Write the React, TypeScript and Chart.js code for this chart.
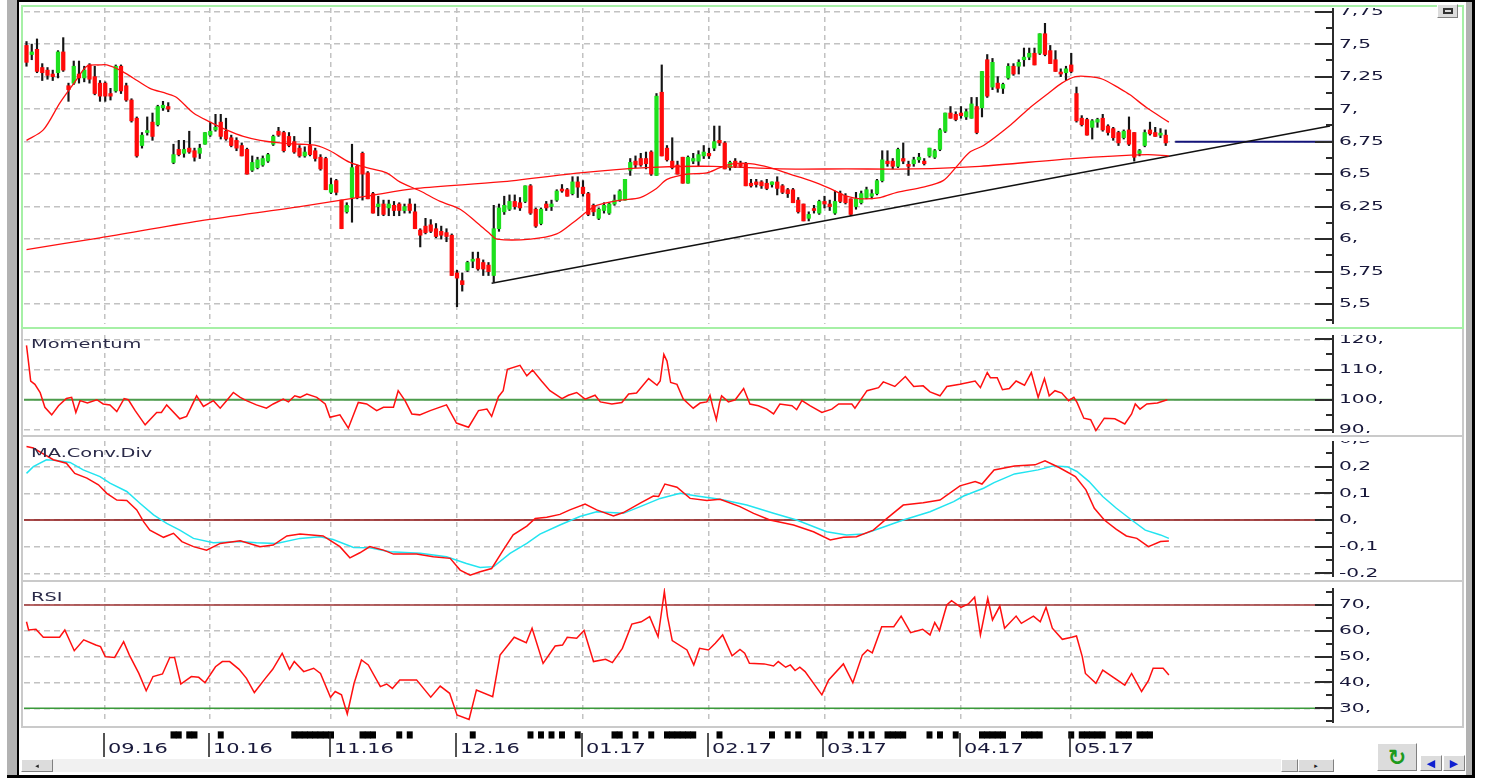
import React, { useEffect, useRef } from "react";
import { Chart, registerables } from "chart.js";

Chart.register(...registerables);

type OHLC = [number, number, number, number]; // open, high, low, close
type Pt = [number, number]; // bar index, value

// ---------------- price bars (one array per month) ----------------
const aug16: OHLC[] = [
  [7.49, 7.52, 7.33, 7.36], [7.42, 7.5, 7.38, 7.44], [7.46, 7.54, 7.28, 7.29], [7.32, 7.35, 7.22, 7.28],
  [7.3, 7.32, 7.23, 7.26], [7.27, 7.3, 7.22, 7.25], [7.28, 7.45, 7.24, 7.44], [7.44, 7.55, 7.29, 7.3],
  [7.18, 7.2, 7.06, 7.15], [7.2, 7.37, 7.19, 7.33], [7.27, 7.37, 7.2, 7.24], [7.24, 7.33, 7.21, 7.3],
  [7.34, 7.35, 7.2, 7.23], [7.25, 7.33, 7.11, 7.12], [7.2, 7.22, 7.06, 7.1],
];
const sep16: OHLC[] = [
  [7.2, 7.21, 7.06, 7.1], [7.12, 7.16, 7.07, 7.1], [7.14, 7.34, 7.13, 7.33], [7.33, 7.34, 7.12, 7.14],
  [7.18, 7.2, 7.06, 7.07], [7.07, 7.08, 6.9, 6.91], [6.93, 6.94, 6.63, 6.64], [6.72, 6.82, 6.7, 6.8],
  [6.82, 6.94, 6.8, 6.83], [6.9, 6.97, 6.76, 6.79], [6.88, 7.03, 6.87, 7.02], [7.01, 7.06, 6.99, 7.03],
  [7.02, 7.05, 6.98, 7.0], [6.59, 6.73, 6.58, 6.65], [6.69, 6.76, 6.64, 6.65], [6.66, 6.76, 6.63, 6.69],
  [6.7, 6.83, 6.66, 6.67], [6.68, 6.7, 6.6, 6.63], [6.66, 6.73, 6.62, 6.7], [6.73, 6.82, 6.73, 6.82],
];
const oct16: OHLC[] = [
  [6.8, 6.9, 6.79, 6.83], [6.84, 6.96, 6.83, 6.86], [6.9, 6.96, 6.77, 6.79], [6.83, 6.93, 6.76, 6.77],
  [6.78, 6.8, 6.71, 6.72], [6.76, 6.78, 6.68, 6.7], [6.72, 6.74, 6.64, 6.64], [6.69, 6.7, 6.5, 6.5],
  [6.53, 6.64, 6.52, 6.59], [6.55, 6.63, 6.54, 6.61], [6.57, 6.64, 6.56, 6.62], [6.6, 6.66, 6.59, 6.65],
  [6.73, 6.8, 6.72, 6.79], [6.83, 6.86, 6.79, 6.8], [6.82, 6.83, 6.67, 6.68], [6.79, 6.82, 6.71, 6.72],
  [6.75, 6.79, 6.66, 6.67], [6.7, 6.72, 6.63, 6.64], [6.64, 6.71, 6.63, 6.67], [6.72, 6.86, 6.64, 6.65],
  [6.68, 6.7, 6.6, 6.62], [6.63, 6.65, 6.53, 6.54], [6.62, 6.63, 6.38, 6.38],
];
const nov16: OHLC[] = [
  [6.36, 6.47, 6.35, 6.42], [6.45, 6.46, 6.34, 6.36], [6.3, 6.3, 6.08, 6.08], [6.21, 6.28, 6.2, 6.26],
  [6.32, 6.73, 6.13, 6.55], [6.56, 6.57, 6.31, 6.32], [6.66, 6.67, 6.3, 6.5], [6.51, 6.52, 6.31, 6.31],
  [6.35, 6.36, 6.2, 6.2], [6.25, 6.33, 6.18, 6.27], [6.27, 6.3, 6.18, 6.19], [6.24, 6.3, 6.18, 6.27],
  [6.26, 6.29, 6.18, 6.22], [6.27, 6.28, 6.18, 6.22], [6.22, 6.27, 6.2, 6.25], [6.27, 6.31, 6.2, 6.22],
  [6.21, 6.27, 6.08, 6.08], [6.07, 6.08, 5.94, 6.03], [6.1, 6.16, 6.04, 6.05], [6.11, 6.15, 6.05, 6.06],
  [6.08, 6.12, 6.01, 6.02], [6.06, 6.1, 6.0, 6.03], [6.05, 6.08, 5.98, 6.02], [6.03, 6.04, 5.72, 5.72],
];
const dec16: OHLC[] = [
  [5.74, 5.76, 5.48, 5.7], [5.68, 5.74, 5.6, 5.65], [5.76, 5.83, 5.75, 5.82], [5.83, 5.9, 5.78, 5.84],
  [5.85, 5.9, 5.76, 5.77], [5.82, 5.84, 5.72, 5.77], [5.8, 5.82, 5.72, 5.75], [5.72, 6.26, 5.67, 6.08],
  [6.08, 6.27, 6.06, 6.24], [6.21, 6.33, 6.19, 6.26], [6.23, 6.34, 6.22, 6.29], [6.29, 6.34, 6.23, 6.25],
  [6.28, 6.32, 6.22, 6.24], [6.29, 6.41, 6.28, 6.41], [6.41, 6.42, 6.19, 6.2], [6.23, 6.24, 6.09, 6.1],
  [6.12, 6.24, 6.11, 6.23], [6.27, 6.29, 6.22, 6.24], [6.25, 6.3, 6.22, 6.27], [6.3, 6.38, 6.29, 6.37],
  [6.38, 6.42, 6.36, 6.37], [6.38, 6.39, 6.33, 6.33], [6.35, 6.48, 6.34, 6.44], [6.44, 6.48, 6.32, 6.4],
];
const jan17: OHLC[] = [
  [6.4, 6.45, 6.33, 6.35], [6.35, 6.36, 6.18, 6.19], [6.26, 6.27, 6.18, 6.21], [6.16, 6.24, 6.15, 6.23],
  [6.22, 6.28, 6.2, 6.26], [6.2, 6.28, 6.19, 6.27], [6.27, 6.34, 6.26, 6.3], [6.3, 6.38, 6.29, 6.37],
  [6.3, 6.46, 6.3, 6.46], [6.53, 6.62, 6.49, 6.59], [6.6, 6.64, 6.55, 6.57], [6.62, 6.66, 6.56, 6.57],
  [6.62, 6.67, 6.54, 6.58], [6.67, 6.68, 6.49, 6.5], [6.49, 7.12, 6.49, 7.1], [7.13, 7.34, 6.64, 6.64],
  [6.7, 6.72, 6.6, 6.61], [6.6, 6.78, 6.54, 6.55], [6.57, 6.6, 6.5, 6.5], [6.63, 6.63, 6.43, 6.43],
  [6.43, 6.64, 6.43, 6.63], [6.6, 6.66, 6.58, 6.62], [6.6, 6.68, 6.56, 6.65], [6.64, 6.72, 6.62, 6.67],
];
const feb17: OHLC[] = [
  [6.66, 6.7, 6.62, 6.64], [6.7, 6.87, 6.68, 6.75], [6.76, 6.87, 6.72, 6.74], [6.74, 6.75, 6.54, 6.54],
  [6.55, 6.6, 6.53, 6.59], [6.6, 6.62, 6.55, 6.56], [6.58, 6.6, 6.55, 6.56], [6.58, 6.59, 6.41, 6.41],
  [6.43, 6.46, 6.4, 6.41], [6.44, 6.46, 6.4, 6.42], [6.44, 6.45, 6.39, 6.41], [6.43, 6.46, 6.38, 6.39],
  [6.42, 6.44, 6.4, 6.44], [6.44, 6.48, 6.34, 6.39], [6.41, 6.42, 6.35, 6.36], [6.38, 6.39, 6.32, 6.35],
  [6.38, 6.39, 6.28, 6.28], [6.3, 6.32, 6.2, 6.21], [6.27, 6.27, 6.14, 6.14], [6.16, 6.21, 6.14, 6.19],
  [6.23, 6.26, 6.2, 6.22], [6.2, 6.3, 6.19, 6.29],
];
const mar17: OHLC[] = [
  [6.29, 6.33, 6.24, 6.27], [6.27, 6.3, 6.22, 6.25], [6.2, 6.37, 6.19, 6.29], [6.35, 6.37, 6.28, 6.29],
  [6.33, 6.35, 6.27, 6.28], [6.31, 6.31, 6.18, 6.19], [6.25, 6.36, 6.23, 6.31], [6.28, 6.37, 6.27, 6.35],
  [6.32, 6.4, 6.31, 6.38], [6.33, 6.38, 6.31, 6.35], [6.35, 6.46, 6.34, 6.45], [6.45, 6.68, 6.44, 6.61],
  [6.6, 6.68, 6.56, 6.58], [6.6, 6.62, 6.54, 6.56], [6.56, 6.7, 6.55, 6.69], [6.62, 6.74, 6.58, 6.6],
  [6.57, 6.6, 6.49, 6.56], [6.58, 6.63, 6.56, 6.61], [6.61, 6.66, 6.59, 6.63], [6.6, 6.62, 6.57, 6.58],
  [6.64, 6.7, 6.63, 6.7], [6.63, 6.69, 6.62, 6.68], [6.69, 6.85, 6.68, 6.84], [6.83, 6.97, 6.82, 6.97],
  [6.97, 7.02, 6.93, 6.93], [6.96, 6.98, 6.91, 6.92],
];
const apr17: OHLC[] = [
  [6.97, 7.02, 6.93, 6.95], [6.94, 7.0, 6.92, 6.98], [6.93, 7.09, 6.93, 7.04], [7.02, 7.09, 6.81, 6.82],
  [7.01, 7.29, 6.94, 7.29], [7.38, 7.42, 7.09, 7.1], [7.17, 7.39, 7.15, 7.36], [7.2, 7.25, 7.13, 7.16],
  [7.16, 7.2, 7.12, 7.19], [7.24, 7.35, 7.23, 7.33], [7.33, 7.35, 7.26, 7.27], [7.33, 7.38, 7.27, 7.36],
  [7.38, 7.47, 7.33, 7.4], [7.4, 7.47, 7.38, 7.43], [7.43, 7.47, 7.34, 7.34], [7.43, 7.58, 7.42, 7.58],
  [7.58, 7.66, 7.41, 7.42], [7.45, 7.49, 7.35, 7.35], [7.38, 7.45, 7.29, 7.29], [7.28, 7.31, 7.25, 7.27],
  [7.28, 7.33, 7.22, 7.31],
];
const may17: OHLC[] = [
  [7.34, 7.43, 7.28, 7.29], [7.12, 7.17, 6.9, 6.91], [6.93, 6.95, 6.87, 6.88], [6.92, 6.93, 6.8, 6.8],
  [6.86, 6.92, 6.77, 6.91], [6.9, 6.93, 6.86, 6.92], [6.93, 6.96, 6.83, 6.84], [6.87, 6.88, 6.8, 6.82],
  [6.85, 6.86, 6.76, 6.78], [6.82, 6.83, 6.72, 6.74], [6.78, 6.84, 6.77, 6.83], [6.84, 6.94, 6.72, 6.73],
  [6.82, 6.82, 6.6, 6.63], [6.66, 6.69, 6.64, 6.68], [6.72, 6.84, 6.71, 6.82], [6.84, 6.9, 6.8, 6.81],
  [6.82, 6.86, 6.79, 6.79], [6.8, 6.85, 6.78, 6.8], [6.8, 6.84, 6.72, 6.74],
];
const bars: OHLC[] = [...aug16, ...sep16, ...oct16, ...nov16, ...dec16, ...jan17, ...feb17, ...mar17, ...apr17, ...may17];

// ---------------- overlays on the price panel ----------------
const shortMA: Pt[] = [
  [0, 6.76], [3.2, 6.84], [6.4, 7.05], [9.6, 7.23], [11.5, 7.33], [14, 7.34], [15.3, 7.34], [17.8, 7.3],
  [20.3, 7.24], [23.5, 7.16], [26.7, 7.12], [28.6, 7.09], [31.8, 6.97], [35, 6.9], [38.1, 6.84], [41.3, 6.79],
  [44.5, 6.76], [48.3, 6.74], [52.1, 6.73], [55.3, 6.72], [57.8, 6.68], [61.6, 6.59], [64.8, 6.55], [68.6, 6.51],
  [71.1, 6.44], [75, 6.37], [78.8, 6.29], [82.6, 6.23], [85.7, 6.13], [88.3, 6.04], [89.6, 6.0], [96, 6.0],
  [101, 6.04], [104.2, 6.13], [106.7, 6.21], [108.6, 6.26], [113.1, 6.3], [116.9, 6.32], [120, 6.39], [122, 6.46],
  [125.8, 6.5], [129.6, 6.51], [132.1, 6.55], [134.7, 6.58], [137.8, 6.58], [141.6, 6.55], [145.4, 6.5], [149.3, 6.45],
  [153, 6.39], [156.2, 6.33], [158.8, 6.31], [162.6, 6.32], [165.8, 6.36], [170.8, 6.4], [174.6, 6.45], [177.2, 6.56],
  [179.7, 6.67], [182.3, 6.72], [187.5, 6.88], [190.8, 7.0], [194.6, 7.12], [197.2, 7.2], [199.8, 7.25], [202.4, 7.25],
  [205, 7.23], [208.2, 7.16], [210.2, 7.11], [213.4, 7.01], [217.6, 6.9],
];
const longMA: Pt[] = [
  [0, 5.92], [14, 6.01], [33, 6.14], [52.1, 6.25], [64.8, 6.33], [74.3, 6.39], [90.2, 6.44], [105.4, 6.51],
  [118.1, 6.55], [130.8, 6.56], [143.5, 6.54], [156.2, 6.54], [168.9, 6.54], [181.6, 6.56], [199.2, 6.62],
  [213.4, 6.65], [217.6, 6.64],
];
const trendLine: Pt[] = [[88.6, 5.66], [248.3, 6.87]];
const supportLevel = 6.75;
const supportFrom = 218.8;

// ---------------- indicators ----------------
const momentum: Pt[] = [
  [0, 118], [0.4, 112.2], [0.8, 106.2], [1.6, 105.1], [2.6, 102.4], [3.5, 97.5], [4.8, 95], [6.1, 98], [7.6, 100.4],
  [8.6, 100.8], [9.4, 95.8], [10.2, 99.7], [11.6, 98.9], [13.4, 100], [14.6, 98.6], [15.9, 98.3], [17.2, 96.1],
  [18.6, 100.4], [19.4, 100], [20.7, 96.4], [22.6, 91.7], [24.8, 95.8], [25.7, 95.8], [26.7, 98.3], [29.2, 93.7],
  [30.5, 94.5], [32.4, 101.3], [33.7, 97.8], [35.6, 99.7], [36.9, 97.2], [38.1, 99.7], [39.4, 102.4], [40.7, 100.8],
  [41.9, 99.7], [43.8, 98.3], [45.7, 97.2], [47, 98.6], [48.9, 100.2], [49.9, 99.3], [51.1, 101.3], [52.1, 100.8],
  [53.4, 101.9], [55.3, 100.8], [56.9, 98.6], [57.8, 94.2], [59.7, 95], [61.3, 90.6], [63.2, 99.1], [64.8, 98.6],
  [66.7, 96.4], [68, 97.5], [69.9, 97.5], [70.8, 103], [72.1, 99.7], [73.4, 95.3], [74.9, 95], [76.9, 96.4],
  [80, 98.3], [81.9, 92.3], [84.2, 90.9], [86.1, 96.4], [87.7, 96.9], [88.6, 94.5], [89.9, 101], [90.8, 103],
  [91.6, 110.1], [94, 111.4], [95.3, 107.9], [96.4, 109.8], [98.1, 106.2], [99.7, 103], [102, 100.4], [103.2, 101.5],
  [104.8, 102.4], [106.4, 100.2], [108.3, 101.5], [109.3, 99.3], [111.5, 98.6], [113.4, 99.1], [114.7, 101.9],
  [116.2, 102.2], [118.5, 107], [120.1, 104.8], [120.7, 106.2], [121.4, 115], [122, 112.8], [122.7, 105.7],
  [123.9, 105.1], [125.1, 100.2], [127, 97.2], [128.3, 98.9], [129.6, 99.3], [130.2, 101.5], [130.7, 97.8],
  [131.4, 93.4], [132, 98.9], [132.4, 101.3], [133.7, 99.3], [135, 100], [136.6, 103.7], [137.8, 98.6], [139.4, 98],
  [141, 96.9], [142.3, 95.3], [143.5, 98.6], [145.8, 98], [146.7, 96.7], [147.7, 99.7], [149.3, 98], [151.5, 95.8],
  [153.4, 96.9], [154.7, 98.6], [157.2, 98.6], [157.8, 97.2], [160.1, 103], [162.3, 104], [163.2, 105.9],
  [165.4, 104.4], [167.4, 107.7], [169, 104.4], [170.8, 104.6], [172.1, 102.6], [174, 101.3], [175.3, 104.4],
  [177.8, 105.1], [180.7, 106.2], [181.7, 104], [183, 109], [183.6, 107.3], [184.9, 107.3], [185.9, 103.3],
  [187.2, 103.7], [188.5, 106.2], [190.1, 104.8], [191.4, 109], [192.7, 100.8], [193.9, 107], [194.8, 101.3],
  [195.9, 103], [197.2, 102.2], [198.5, 99.7], [199.5, 100.8], [200.1, 99.1], [201.4, 93.9], [202.7, 93.4],
  [203.7, 89.8], [205.3, 93.9], [207.3, 93.7], [209.2, 92], [210.5, 95.3], [211.2, 98.6], [212.1, 96.9],
  [213.4, 98.6], [215.4, 98.9], [217.3, 100],
];
const macd: Pt[] = [
  [0, 0.276], [1.3, 0.27], [3.2, 0.248], [5.1, 0.226], [7.6, 0.213], [9.2, 0.175], [11.5, 0.157], [13.7, 0.132],
  [15.3, 0.1], [17.2, 0.075], [19.1, 0.073], [21, 0.038], [22.3, -0.006], [23.5, -0.038], [26.1, -0.065], [28, -0.05],
  [29.6, -0.081], [31.8, -0.1], [34.3, -0.113], [36.9, -0.088], [40.7, -0.078], [44.5, -0.1], [47, -0.094],
  [49.6, -0.06], [52.1, -0.053], [56.5, -0.06], [59.7, -0.1], [61.6, -0.142], [63.5, -0.123], [65.4, -0.1],
  [68, -0.113], [69.9, -0.128], [74.3, -0.128], [77.5, -0.138], [80.7, -0.144], [82.6, -0.188], [84.5, -0.207],
  [86.4, -0.194], [88.6, -0.182], [90.8, -0.113], [92.7, -0.056], [95.3, -0.023], [96.9, 0.006], [99.1, 0.01],
  [101.6, 0.021], [103.5, 0.038], [106.4, 0.06], [108.6, 0.038], [111.8, 0.015], [113.7, 0.028], [116.9, 0.063],
  [119.4, 0.09], [120.4, 0.088], [121.6, 0.135], [123.9, 0.123], [126.4, 0.081], [129.6, 0.073], [132.1, 0.078],
  [135.9, 0.05], [138.5, 0.025], [141.6, 0], [146.1, -0.019], [149.9, -0.044], [153.1, -0.075], [155.6, -0.065],
  [158.1, -0.063], [161.3, -0.038], [163.9, 0.006], [167, 0.056], [170.8, 0.065], [174, 0.075], [177.8, 0.128],
  [180.7, 0.144], [182, 0.135], [184.3, 0.188], [188.2, 0.203], [192.1, 0.207], [194, 0.222], [196.6, 0.198],
  [199.8, 0.163], [201.8, 0.113], [203.4, 0.044], [205.3, 0], [207.6, -0.035], [209.5, -0.06], [211.5, -0.069],
  [213.7, -0.1], [216, -0.081], [217.6, -0.079],
];
const macdSignal: Pt[] = [
  [0, 0.175], [1.3, 0.2], [3.8, 0.226], [5.7, 0.223], [8.3, 0.216], [10.8, 0.188], [14, 0.163], [15.9, 0.138],
  [19.1, 0.107], [21.6, 0.063], [24.2, 0.019], [26.7, -0.013], [29.2, -0.038], [31.8, -0.069], [35.6, -0.085],
  [40.7, -0.081], [43.8, -0.085], [47.6, -0.088], [52.1, -0.069], [55.9, -0.063], [58.4, -0.073], [62.3, -0.103],
  [65.4, -0.104], [69.2, -0.119], [75, -0.125], [80, -0.138], [83.8, -0.163], [86.4, -0.178], [89, -0.175],
  [92.1, -0.125], [95.3, -0.088], [97.8, -0.053], [101.6, -0.019], [105.4, 0.013], [108.6, 0.031], [113.7, 0.025],
  [116.9, 0.05], [120.7, 0.081], [124.5, 0.1], [127.7, 0.09], [132.1, 0.078], [137.2, 0.056], [142.3, 0.025],
  [146.7, 0], [152.4, -0.044], [156.2, -0.056], [159.4, -0.053], [162.6, -0.031], [167, 0], [172.1, 0.031],
  [176.6, 0.069], [178.5, 0.09], [182.3, 0.119], [184.3, 0.14], [188.2, 0.173], [192.7, 0.188], [195.6, 0.203],
  [198.2, 0.2], [200.1, 0.182], [202.4, 0.144], [205, 0.088], [207.6, 0.044], [210.5, 0], [213.1, -0.038],
  [216, -0.056], [217.6, -0.069],
];
const rsi: Pt[] = [
  [0, 63.5], [0.4, 60.3], [1.8, 60.6], [3.2, 57.5], [6.3, 57.5], [7.3, 60.3], [9.1, 52.3], [10.9, 56.5], [13.2, 54.5],
  [14.1, 53.9], [15, 50], [16.8, 49.7], [18.5, 55.8], [19.6, 50.6], [21.4, 43.5], [22.8, 36.8], [24.1, 42.3],
  [25.9, 43.3], [27.3, 49.7], [28.2, 49.7], [29.4, 39.4], [31.4, 42.3], [32.8, 42], [34, 39.9], [36, 46.1],
  [37.3, 48.1], [38.7, 48.1], [40.5, 45.1], [41.9, 41.6], [43.4, 36.1], [45.5, 41.6], [46.9, 45.1], [48.7, 51.3],
  [50.1, 45.1], [51, 48.1], [52.8, 44.2], [54.7, 45.5], [56, 43.5], [57.9, 34.3], [58.8, 36.5], [60, 35.2],
  [61.1, 27.8], [62.4, 39.7], [63.8, 48.7], [65.1, 46.8], [67.4, 38.4], [68.6, 39.4], [69.7, 37.7], [71.1, 41],
  [74.3, 41], [77, 34.3], [78.8, 38.6], [80.6, 35.8], [82, 27.4], [84.3, 25.7], [85.7, 37.1], [88.8, 34.5],
  [90.2, 50.6], [92.9, 57.5], [95.2, 55.4], [96.3, 61], [98.4, 47.4], [100.7, 54.1], [102.1, 54.5], [103, 57.5],
  [104.8, 57.1], [106.2, 60.1], [108, 48.1], [110.3, 49], [111.6, 47.7], [113.5, 53.2], [115.3, 62.6], [117.1, 63.5],
  [118.7, 65.5], [120.3, 57.7], [121.5, 75.2], [122.1, 65.5], [123, 56.2], [125.8, 52.6], [127.1, 46.8],
  [128.2, 53.2], [129.9, 52.6], [131.2, 55.2], [132.6, 58.4], [134.4, 50.3], [135.9, 52.8], [136.8, 51.3],
  [137.7, 47.4], [140.5, 47.2], [142.3, 46.4], [143.2, 48.1], [144.6, 45.9], [145.5, 46.8], [146.4, 44.6],
  [147.3, 45.9], [148.3, 44.2], [151.5, 35.2], [152.8, 41], [155.6, 47.2], [157.4, 39.9], [159.2, 50.6],
  [160.2, 52.6], [161.1, 51.5], [162.9, 61.6], [165.2, 61.6], [166.6, 65.7], [168.4, 59.3], [170.7, 60.6],
  [172.1, 58.4], [173, 63.2], [173.9, 60.1], [175.3, 70], [176.2, 71.7], [178, 69.1], [179.4, 70.4], [180.6, 73],
  [181.7, 58.4], [183.1, 72.6], [184, 64.2], [185.4, 69.6], [186.3, 61], [188.5, 65.7], [189.5, 62.9],
  [191.8, 65.7], [193.1, 63.5], [194.2, 69.1], [195.4, 61], [197.3, 56.7], [199.1, 57.5], [200, 58], [201.1, 50],
  [201.7, 43.5], [203.7, 39.7], [205, 44.8], [209.2, 39], [210.5, 43.5], [212.4, 36.5], [213.7, 40.7],
  [214.6, 45.5], [216.5, 45.5], [217.6, 42.9],
];
const momentumLevel = 100;
const macdLevel = 0;
const rsiUpper = 70;
const rsiLower = 30;

// ---------------- axes ----------------
const monthStarts = [15, 35, 58, 82, 106, 130, 152, 178, 199];
const monthLabels = ["09.16", "10.16", "11.16", "12.16", "01.17", "02.17", "03.17", "04.17", "05.17"];
const eventDays = [
  28, 29, 31, 32, 37, 51, 52, 53, 54, 55, 56, 57, 58, 64, 65, 66, 71, 73, 85, 96, 98, 100, 102, 105, 112, 113,
  116, 119, 122, 123, 124, 125, 126, 127, 132, 142, 145, 147, 151, 152, 157, 159, 161, 164, 165, 166, 167, 172,
  174, 177, 182, 183, 184, 185, 186, 190, 191, 192, 193, 199, 201, 202, 203, 204, 205, 208, 209, 210, 212, 213, 214,
];
const priceTicks = [5.5, 5.75, 6, 6.25, 6.5, 6.75, 7, 7.25, 7.5, 7.75];
const momentumTicks = [90, 100, 110, 120];
const macdTicks = [-0.2, -0.1, 0, 0.1, 0.2, 0.3];
const rsiTicks = [30, 40, 50, 60, 70];

// ---------------- styling ----------------
const FONT = '"DejaVu Sans", Verdana, sans-serif';
const STRETCH = 1.55;
const AXIS_W = 130;
const X_MIN = -0.476;
const X_MAX = 248.67;
const GRID = "#c2c2c2";
const GREEN = "#1ee01e";
const RED = "#ff0a0a";
const LINE_RED = "#ff1010";
const CYAN = "#22e4f0";
const TEXT = "#18183a";
const MARK_LO = 0.66;
const MARK_HI = 0.877;

const fmt = (v: number) => {
  const s = String(Math.round(v * 1000) / 1000);
  return s.indexOf(".") >= 0 ? s.replace(".", ",") : s + ",";
};

const axisDecor = {
  id: "axisDecor",
  afterDraw(chart: any, _args: any, opts: any) {
    const ys = chart.scales.y;
    const ticks: number[] = opts && opts.ticks;
    if (!ys || !ticks) return;
    const ctx = chart.ctx;
    const ax = chart.chartArea.right;
    const { top, bottom } = chart.chartArea;
    ctx.save();
    ctx.strokeStyle = "#2b2b2b";
    ctx.lineWidth = 2;
    ctx.beginPath();
    ctx.moveTo(ax + 1, top);
    ctx.lineTo(ax + 1, bottom);
    ctx.stroke();
    const step = ticks[1] - ticks[0];
    const mark = (v: number, len: number) => {
      const py = Math.round(ys.getPixelForValue(v));
      if (py < top - 1 || py > bottom + 1) return;
      ctx.beginPath();
      ctx.moveTo(ax - len, py);
      ctx.lineTo(ax + 1, py);
      ctx.stroke();
    };
    ticks.forEach((v) => mark(v, 17));
    [ticks[0] - step / 2, ...ticks.map((v) => v + step / 2)].forEach((v) => mark(v, 6));
    ctx.fillStyle = TEXT;
    ctx.font = `13px ${FONT}`;
    ctx.textBaseline = "middle";
    ctx.textAlign = "left";
    ticks.forEach((v) => {
      const py = ys.getPixelForValue(v);
      ctx.save();
      ctx.translate(ax + 7, py);
      ctx.scale(STRETCH, 1);
      ctx.fillText(fmt(v), 0, 0);
      ctx.restore();
    });
    ctx.restore();
  },
};

const dateAxis = {
  id: "dateAxis",
  afterDraw(chart: any) {
    const xs = chart.scales.x;
    const ctx = chart.ctx;
    ctx.save();
    ctx.strokeStyle = "#1a1a1a";
    ctx.lineWidth = 1.5;
    ctx.fillStyle = TEXT;
    ctx.font = `13.5px ${FONT}`;
    ctx.textBaseline = "alphabetic";
    ctx.textAlign = "left";
    monthStarts.forEach((m, k) => {
      const px = Math.round(xs.getPixelForValue(m)) - 1;
      ctx.beginPath();
      ctx.moveTo(px, 5);
      ctx.lineTo(px, 29);
      ctx.stroke();
      ctx.save();
      ctx.translate(px + 4, 25);
      ctx.scale(STRETCH, 1);
      ctx.fillText(monthLabels[k], 0, 0);
      ctx.restore();
    });
    ctx.restore();
  },
};

const xScale = (display: boolean) => ({
  type: "linear",
  min: X_MIN,
  max: X_MAX,
  offset: false,
  display,
  afterBuildTicks: (s: any) => {
    s.ticks = monthStarts.map((v) => ({ value: v }));
  },
  ticks: { display: false },
  grid: { color: GRID, lineWidth: 1.5, drawTicks: false, offset: false },
  border: { display: false, dash: [5, 4] },
});

const yScale = (min: number, max: number, ticks: number[]) => ({
  type: "linear",
  position: "right",
  min,
  max,
  afterBuildTicks: (s: any) => {
    s.ticks = ticks.map((v) => ({ value: v }));
  },
  afterFit: (s: any) => {
    s.width = AXIS_W;
    s.paddingTop = 0;
    s.paddingBottom = 0;
  },
  ticks: { display: false },
  grid: { color: GRID, lineWidth: 1.5, drawTicks: false },
  border: { display: false, dash: [6, 4] },
});

const baseOptions = (yMin: number, yMax: number, yTicks: number[]) => ({
  animation: false,
  responsive: false,
  devicePixelRatio: 1,
  events: [],
  layout: { padding: { left: 1, right: 0, top: 0, bottom: 0 } },
  plugins: { legend: { display: false }, tooltip: { enabled: false }, axisDecor: { ticks: yTicks } },
  scales: { x: xScale(true), y: yScale(yMin, yMax, yTicks) },
});

const lineDs = (pts: Pt[], color: string, width: number, tension = 0, order = 0) => ({
  type: "line",
  data: pts.map(([x, y]) => ({ x, y })),
  borderColor: color,
  borderWidth: width,
  pointRadius: 0,
  tension,
  fill: false,
  order,
});
const levelDs = (y: number, color: string, width: number) => lineDs([[X_MIN, y], [X_MAX, y]], color, width, 0, 5);

const abs = (left: number, top: number, width: number, height: number, background: string): React.CSSProperties => ({
  position: "absolute",
  left,
  top,
  width,
  height,
  background,
});

const titleStyle = (top: number): React.CSSProperties => ({
  position: "absolute",
  left: 31,
  top,
  fontFamily: FONT,
  fontSize: 12.5,
  lineHeight: "13px",
  color: "#2a2a48",
  transform: `scaleX(${STRETCH})`,
  transformOrigin: "0 0",
  whiteSpace: "nowrap",
});

const btn = (left: number, top: number, width: number, height: number): React.CSSProperties => ({
  position: "absolute",
  left,
  top,
  width,
  height,
  background: "#dcdcdc",
  boxSizing: "border-box",
  borderTop: "1px solid #ffffff",
  borderLeft: "1px solid #ffffff",
  borderRight: "1px solid #808080",
  borderBottom: "1px solid #808080",
  display: "flex",
  alignItems: "center",
  justifyContent: "center",
  fontFamily: FONT,
  overflow: "hidden",
});

export default function App() {
  const priceRef = useRef<HTMLCanvasElement>(null);
  const momRef = useRef<HTMLCanvasElement>(null);
  const macdRef = useRef<HTMLCanvasElement>(null);
  const rsiRef = useRef<HTMLCanvasElement>(null);
  const dateRef = useRef<HTMLCanvasElement>(null);

  useEffect(() => {
    const charts: any[] = [];

    charts.push(
      new Chart(priceRef.current as any, {
        type: "bar",
        data: {
          datasets: [
            lineDs(shortMA, LINE_RED, 1.3, 0.3, 0),
            lineDs(longMA, LINE_RED, 1.3, 0.3, 0),
            lineDs(trendLine, "#111111", 1.5, 0, 0),
            lineDs([[supportFrom, supportLevel], [X_MAX, supportLevel]], "#14147a", 2, 0, 0),
            {
              type: "bar",
              data: bars.map((b, i) => ({ x: i, y: [b[0], b[3]] })),
              backgroundColor: bars.map((b) => (b[3] >= b[0] ? GREEN : RED)),
              barThickness: 3.6,
              minBarLength: 2,
              grouped: false,
              order: 2,
            },
            {
              type: "bar",
              data: bars.map((b, i) => ({ x: i, y: [b[2], b[1]] })),
              backgroundColor: "#151515",
              barThickness: 1.5,
              grouped: false,
              order: 3,
            },
          ],
        } as any,
        options: baseOptions(5.347, 7.778, priceTicks) as any,
        plugins: [axisDecor as any],
      })
    );

    charts.push(
      new Chart(momRef.current as any, {
        type: "line",
        data: {
          datasets: [levelDs(momentumLevel, "#4c9c4c", 2.2), lineDs(momentum, LINE_RED, 1.5)],
        } as any,
        options: baseOptions(89.0, 121.42, momentumTicks) as any,
        plugins: [axisDecor as any],
      })
    );

    charts.push(
      new Chart(macdRef.current as any, {
        type: "line",
        data: {
          datasets: [
            levelDs(macdLevel, "#8e1010", 1.5),
            lineDs(macdSignal, CYAN, 1.5, 0, 1),
            lineDs(macd, LINE_RED, 1.5, 0, 0),
          ],
        } as any,
        options: baseOptions(-0.2139, 0.2964, macdTicks) as any,
        plugins: [axisDecor as any],
      })
    );

    charts.push(
      new Chart(rsiRef.current as any, {
        type: "line",
        data: {
          datasets: [
            levelDs(rsiUpper, "#a03535", 1.5),
            levelDs(rsiLower, "#3a9a3a", 1.5),
            lineDs(rsi, LINE_RED, 1.5),
          ],
        } as any,
        options: baseOptions(24.31, 76.58, rsiTicks) as any,
        plugins: [axisDecor as any],
      })
    );

    charts.push(
      new Chart(dateRef.current as any, {
        type: "bar",
        data: {
          datasets: [
            {
              data: eventDays.map((d) => ({ x: d, y: [MARK_LO, MARK_HI] })),
              backgroundColor: "#000000",
              barThickness: 5.3,
              grouped: false,
            },
          ],
        } as any,
        options: {
          animation: false,
          responsive: false,
          devicePixelRatio: 1,
          events: [],
          layout: { padding: { left: 1, right: AXIS_W, top: 0, bottom: 0 } },
          plugins: { legend: { display: false }, tooltip: { enabled: false } },
          scales: { x: xScale(false), y: { type: "linear", display: false, min: 0, max: 1 } },
        } as any,
        plugins: [dateAxis as any],
      })
    );

    return () => charts.forEach((c) => c.destroy());
  }, []);

  const canvasStyle = (top: number): React.CSSProperties => ({ position: "absolute", left: 23, top });

  return (
    <div
      style={{
        position: "absolute",
        left: 0,
        top: 0,
        width: 1493,
        height: 781,
        background: "#ffffff",
        overflow: "hidden",
        fontFamily: FONT,
      }}
    >
      {/* window frame */}
      <div style={abs(7, 0, 10, 776, "#b2b2b2")} />
      <div style={abs(17, 0, 2, 778, "#000")} />
      <div style={abs(17, 0, 1458, 2, "#000")} />
      <div style={abs(1466, 2, 6, 774, "#b2b2b2")} />
      <div style={abs(1472, 0, 3, 778, "#000")} />
      <div style={abs(7, 775, 1468, 3, "#000")} />

      {/* panel borders */}
      <div
        style={{
          position: "absolute",
          left: 21,
          top: 5,
          width: 1443,
          height: 324,
          border: "2px solid #a6f0a6",
          boxSizing: "border-box",
        }}
      />
      <div
        style={{
          position: "absolute",
          left: 21,
          top: 329,
          width: 1443,
          height: 399,
          borderLeft: "2px solid #cacaca",
          borderRight: "2px solid #cacaca",
          borderBottom: "2px solid #cacaca",
          boxSizing: "border-box",
        }}
      />
      <div style={abs(21, 435, 1443, 2, "#cacaca")} />
      <div style={abs(21, 580, 1443, 2, "#cacaca")} />

      {/* charts */}
      <canvas ref={priceRef} width={1439} height={316} style={canvasStyle(8)} />
      <canvas ref={momRef} width={1439} height={98} style={canvasStyle(335)} />
      <canvas ref={macdRef} width={1439} height={136} style={canvasStyle(441)} />
      <canvas ref={rsiRef} width={1439} height={135} style={canvasStyle(588)} />
      <canvas ref={dateRef} width={1439} height={30} style={canvasStyle(728)} />

      {/* panel titles */}
      <div style={titleStyle(337)}>Momentum</div>
      <div style={titleStyle(446)}>MA.Conv.Div</div>
      <div style={titleStyle(590)}>RSI</div>

      {/* small maximise button */}
      <div style={btn(1437, 4, 21, 14)}>
        <div style={{ width: 10, height: 6, border: "2px solid #333", boxSizing: "border-box" }} />
      </div>

      {/* scroll bar */}
      <div style={abs(21, 759, 1313, 13, "#f1f1f1")} />
      <div style={{ ...btn(21, 759, 32, 13), fontSize: 7, color: "#222" }}>◂</div>
      <div style={btn(1281, 759, 17, 13)} />
      <div style={{ ...btn(1298, 759, 36, 13), fontSize: 7, color: "#222" }}>▸</div>

      {/* refresh + navigation buttons */}
      <div style={{ ...btn(1377, 743, 40, 28), fontSize: 22, color: "#1d9a1d", fontWeight: "bold" }}>↻</div>
      <div style={{ ...btn(1420, 755, 22, 16), fontSize: 11, color: "#1020d0" }}>◀</div>
      <div style={{ ...btn(1443, 755, 22, 16), fontSize: 11, color: "#1020d0" }}>▶</div>
    </div>
  );
}
